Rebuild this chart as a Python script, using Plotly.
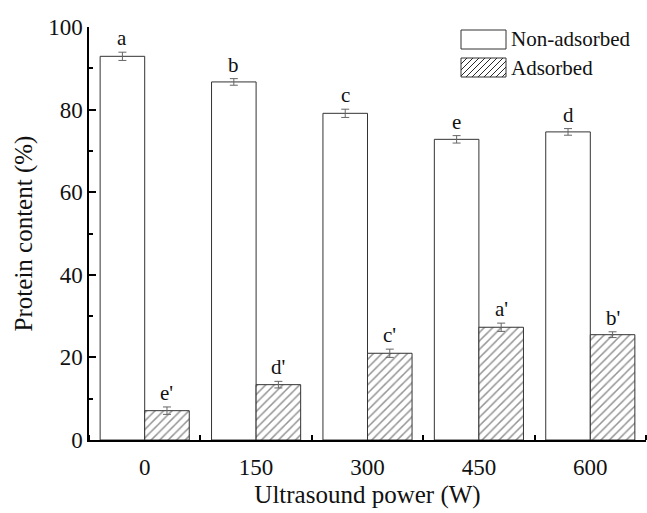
import plotly.graph_objects as go

# ---- data ----
powers = ["0", "150", "300", "450", "600"]
non_adsorbed = [92.9, 86.7, 79.1, 72.8, 74.6]
non_err = [1.0, 0.8, 1.0, 0.9, 0.8]
adsorbed = [7.1, 13.4, 21.0, 27.3, 25.5]
ads_err = [0.9, 0.8, 1.0, 1.0, 0.7]
non_letters = ["a", "b", "c", "e", "d"]
ads_letters = ["e'", "d'", "c'", "a'", "b'"]
y_ticks = [0, 20, 40, 60, 80, 100]
y_minor = [10, 30, 50, 70, 90]

FONT = "Times New Roman, Liberation Serif, DejaVu Serif, serif"
W, H = 647, 513
L, R, T, B = 89, 646, 27, 440  # plot-area pixel box
BAR_W = 0.4  # each bar's share of a category

x_idx = list(range(len(powers)))

fig = go.Figure()
fig.add_bar(
    x=x_idx, y=non_adsorbed, name="Non-adsorbed", showlegend=False,
    marker=dict(color="white", line=dict(color="#333333", width=1)),
    error_y=dict(type="data", array=non_err, color="#666666", thickness=1, width=4),
)
fig.add_bar(
    x=x_idx, y=adsorbed, name="Adsorbed", showlegend=False,
    marker=dict(color="white", line=dict(color="#333333", width=1),
                pattern=dict(shape="/", fgcolor="#2a2a2a", bgcolor="white",
                             size=6, solidity=0.25)),
    error_y=dict(type="data", array=ads_err, color="#666666", thickness=1, width=4),
)

annotations = []
for i in x_idx:
    annotations.append(dict(x=i - BAR_W / 2, y=non_adsorbed[i] + non_err[i], text=non_letters[i],
                            showarrow=False, yanchor="bottom", yshift=0,
                            font=dict(family=FONT, size=21, color="#111")))
    annotations.append(dict(x=i + BAR_W / 2, y=adsorbed[i] + ads_err[i], text=ads_letters[i],
                            showarrow=False, yanchor="bottom", yshift=0,
                            font=dict(family=FONT, size=21, color="#111")))


def px(x):
    return (x - L) / (R - L)


def py(y):
    return (B - y) / (B - T)


# ---- manual legend (decoration) ----
shapes = []
kx0, kx1 = 461, 506
k1y0, k1y1 = 30, 49
k2y0, k2y1 = 58, 77
shapes.append(dict(type="rect", xref="paper", yref="paper", x0=px(kx0), x1=px(kx1),
                   y0=py(k1y1), y1=py(k1y0), fillcolor="white",
                   line=dict(color="#333333", width=1)))
shapes.append(dict(type="rect", xref="paper", yref="paper", x0=px(kx0), x1=px(kx1),
                   y0=py(k2y1), y1=py(k2y0), fillcolor="white",
                   line=dict(color="#333333", width=1)))
h = k2y1 - k2y0
c = kx0 - h
while c < kx1:
    t0 = max(0, kx0 - c)
    t1 = min(h, kx1 - c)
    if t1 > t0:
        shapes.append(dict(type="line", xref="paper", yref="paper",
                           x0=px(c + t0), y0=py(k2y1 - t0), x1=px(c + t1), y1=py(k2y1 - t1),
                           line=dict(color="#2a2a2a", width=1)))
    c += 6
annotations.append(dict(xref="paper", yref="paper", x=px(509), y=py((k1y0 + k1y1) / 2),
                        text="Non-adsorbed", showarrow=False, xanchor="left", yanchor="middle",
                        font=dict(family=FONT, size=21, color="#111")))
annotations.append(dict(xref="paper", yref="paper", x=px(509), y=py((k2y0 + k2y1) / 2),
                        text="Adsorbed", showarrow=False, xanchor="left", yanchor="middle",
                        font=dict(family=FONT, size=21, color="#111")))

fig.update_layout(
    width=W, height=H,
    margin=dict(l=L, r=W - R, t=T, b=H - B, autoexpand=False),
    paper_bgcolor="white", plot_bgcolor="white",
    barmode="group", bargap=0.2, bargroupgap=0,
    font=dict(family=FONT, color="#111", size=22),
    annotations=annotations, shapes=shapes,
    xaxis=dict(
        range=[-0.5, 4.5], tickmode="array", tickvals=x_idx, ticktext=powers,
        ticks="", ticklabelstandoff=6, showgrid=False, zeroline=False, automargin=False,
        showline=True, linecolor="black", linewidth=1.5,
        tickfont=dict(family=FONT, size=23, color="#111"),
        minor=dict(tickmode="array", tickvals=[k - 0.5 for k in range(len(powers) + 1)],
                   ticks="inside", ticklen=5, tickwidth=1.5, tickcolor="black", showgrid=False),
        title=dict(text="Ultrasound power (W)", standoff=6,
                   font=dict(family=FONT, size=25, color="#111")),
    ),
    yaxis=dict(
        range=[0, 100], tickmode="array", tickvals=y_ticks,
        ticks="inside", ticklen=7, tickwidth=1.5, tickcolor="black",
        showgrid=False, zeroline=False, automargin=False,
        showline=True, linecolor="black", linewidth=1.5,
        tickfont=dict(family=FONT, size=23, color="#111"),
        minor=dict(tickmode="array", tickvals=y_minor, ticks="inside", ticklen=4,
                   tickwidth=1.5, tickcolor="black", showgrid=False),
        title=dict(text="Protein content (%)", standoff=8,
                   font=dict(family=FONT, size=25, color="#111")),
    ),
)

fig.write_html("out.html", config={"displayModeBar": False},
               post_script="document.body.style.margin='0';")
